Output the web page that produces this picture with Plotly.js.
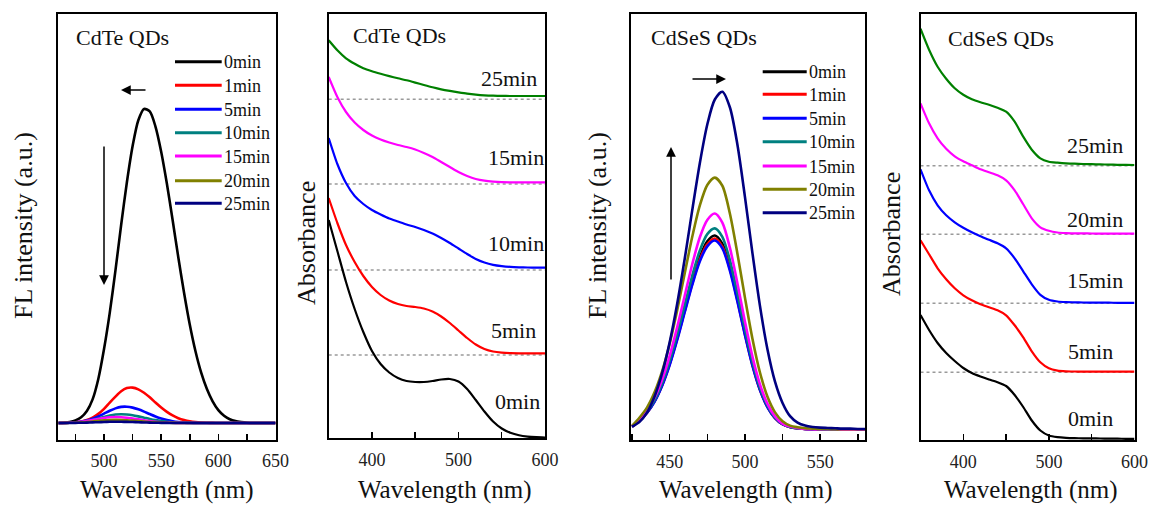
<!DOCTYPE html>
<html><head><meta charset="utf-8">
<script src="https://cdn.plot.ly/plotly-3.0.1.min.js"></script>
<style>html,body{margin:0;padding:0;background:#fff}#c{width:1151px;height:507px}</style>
</head><body><div id="c"></div>
<script>
// ---------- DATA ----------
const timeLabelsPL = ["0min","1min","5min","10min","15min","20min","25min"];
const colorsPL = ["#000000","#ff0000","#0000ff","#008080","#ff00ff","#808000","#000080"];

// Panel 1: CdTe FL spectra
const wlTeFL = [460,465,470,475,480,485,490,495,500,505,510,515,520,525,530,535,540,545,550,555,560,565,570,575,580,585,590,595,600,605,610,615,620,625,630,635,640,645,650];
const teFL0  = [0.000,0.001,0.003,0.008,0.018,0.038,0.075,0.140,0.235,0.350,0.485,0.630,0.765,0.880,0.962,0.998,0.990,0.942,0.862,0.760,0.645,0.526,0.414,0.313,0.228,0.160,0.108,0.069,0.041,0.023,0.012,0.006,0.003,0.001,0,0,0,0,0];
const teFL1  = [0,0,0.0009,0.0021,0.0046,0.0093,0.0172,0.029,0.045,0.065,0.084,0.101,0.111,0.1125,0.107,0.096,0.0815,0.065,0.049,0.0354,0.024,0.0153,0.0093,0.0053,0.0028,0.0014,0.0007,0.0003,0,0,0,0,0,0,0,0,0,0,0];
const teFL5  = [0,0.0004,0.001,0.0021,0.0043,0.0079,0.0134,0.0208,0.0297,0.0388,0.0465,0.0512,0.0517,0.0489,0.0434,0.0362,0.0284,0.0209,0.0145,0.0094,0.0057,0.0033,0.0018,0.0009,0.0004,0,0,0,0,0,0,0,0,0,0,0,0,0,0];
const teFL10 = [0,0.0002,0.0008,0.0018,0.0034,0.0059,0.0095,0.014,0.019,0.0236,0.0268,0.028,0.0271,0.0247,0.0211,0.017,0.0128,0.0091,0.006,0.0038,0.0022,0.0012,0.0006,0.0003,0,0,0,0,0,0,0,0,0,0,0,0,0,0,0];
const teFL15 = [0.0001,0.0005,0.0012,0.0023,0.004,0.0065,0.0095,0.0129,0.016,0.0182,0.019,0.0184,0.0168,0.0143,0.0116,0.0087,0.0062,0.0041,0.0026,0.0015,0.0008,0.0004,0.0002,0,0,0,0,0,0,0,0,0,0,0,0,0,0,0,0];
const teFL20 = [0.0001,0.0003,0.0006,0.0012,0.0021,0.0034,0.005,0.0068,0.0085,0.0096,0.010,0.0098,0.0089,0.0076,0.0061,0.0046,0.0033,0.0022,0.0014,0.0008,0.0004,0.0002,0.0001,0,0,0,0,0,0,0,0,0,0,0,0,0,0,0,0];
const teFL25 = [0,0.0001,0.0003,0.0005,0.0008,0.0013,0.002,0.0026,0.0033,0.0038,0.0039,0.0038,0.0035,0.003,0.0024,0.0018,0.0013,0.0008,0.0005,0.0003,0.0002,0.0001,0,0,0,0,0,0,0,0,0,0,0,0,0,0,0,0,0];

// Panel 3: CdSeS FL spectra
const wlSeFL = [425,430,435,440,445,450,455,460,465,470,475,480,485,490,495,500,505,510,515,520,525,530,535,540,545,550,555,560,565,570,575,580];
const seFL0  = [0.010,0.029,0.052,0.086,0.134,0.197,0.273,0.357,0.440,0.511,0.558,0.575,0.551,0.484,0.390,0.288,0.195,0.121,0.069,0.036,0.017,0.009,0.005,0.003,0.002,0.002,0.001,0.001,0.001,0.001,0.001,0.001];
const seFL1  = [0.010,0.028,0.051,0.085,0.132,0.194,0.269,0.351,0.433,0.503,0.549,0.566,0.542,0.476,0.384,0.283,0.192,0.119,0.068,0.035,0.017,0.009,0.005,0.003,0.002,0.002,0.001,0.001,0.001,0.001,0.001,0.001];
const seFL5  = [0.010,0.028,0.051,0.084,0.131,0.192,0.266,0.348,0.429,0.498,0.543,0.560,0.537,0.471,0.380,0.281,0.190,0.118,0.067,0.035,0.017,0.009,0.005,0.003,0.002,0.002,0.001,0.001,0.001,0.001,0.001,0.001];
const seFL10 = [0.010,0.030,0.054,0.089,0.139,0.204,0.283,0.370,0.456,0.530,0.579,0.596,0.571,0.502,0.404,0.299,0.202,0.125,0.072,0.037,0.018,0.009,0.005,0.003,0.002,0.002,0.001,0.001,0.001,0.001,0.001,0.001];
const seFL15 = [0.011,0.032,0.058,0.096,0.149,0.219,0.304,0.397,0.490,0.569,0.621,0.640,0.613,0.539,0.434,0.321,0.217,0.135,0.077,0.040,0.019,0.010,0.006,0.003,0.002,0.002,0.002,0.002,0.001,0.001,0.001,0.001];
const seFL20 = [0.012,0.037,0.067,0.112,0.174,0.255,0.354,0.463,0.571,0.663,0.724,0.746,0.722,0.640,0.522,0.392,0.270,0.170,0.098,0.052,0.026,0.013,0.008,0.005,0.004,0.003,0.003,0.002,0.002,0.002,0.002,0.002];
const seFL25 = [0.010,0.024,0.052,0.100,0.168,0.259,0.373,0.506,0.650,0.788,0.903,0.977,1.000,0.954,0.844,0.690,0.523,0.367,0.238,0.143,0.080,0.041,0.022,0.013,0.009,0.007,0.006,0.005,0.004,0.004,0.003,0.003];

// Absorbance spectra (values above each curve's own dotted baseline)
const wlAbs = [350,360,370,380,390,400,410,420,430,440,450,460,470,480,490,500,510,520,530,540,550,560,570,580,590,600];
const teAbsLabels = ["0min","5min","10min","15min","25min"];
const teAbsColors = ["#000000","#ff0000","#0000ff","#ff00ff","#008000"];
const teAbsOffsets = [0, 0.83, 1.68, 2.54, 3.387];
const teAbs0  = [2.18,1.87,1.56,1.29,1.06,0.87,0.74,0.655,0.60,0.57,0.56,0.56,0.57,0.585,0.59,0.565,0.49,0.38,0.265,0.165,0.095,0.052,0.027,0.014,0.008,0.005];
const teAbs5  = [1.57,1.32,1.10,0.93,0.79,0.68,0.60,0.545,0.51,0.49,0.48,0.465,0.435,0.385,0.32,0.245,0.17,0.105,0.06,0.035,0.024,0.019,0.017,0.017,0.017,0.017];
const teAbs10 = [1.32,1.06,0.87,0.74,0.66,0.60,0.555,0.515,0.485,0.455,0.43,0.40,0.365,0.32,0.27,0.215,0.16,0.11,0.075,0.052,0.039,0.031,0.027,0.025,0.023,0.023];
const teAbs15 = [1.07,0.87,0.72,0.615,0.54,0.485,0.445,0.415,0.39,0.37,0.345,0.31,0.27,0.22,0.17,0.12,0.08,0.05,0.033,0.024,0.019,0.017,0.017,0.017,0.017,0.017];
const teAbs25 = [0.59,0.49,0.41,0.355,0.31,0.28,0.255,0.232,0.21,0.19,0.167,0.143,0.12,0.10,0.084,0.07,0.057,0.047,0.04,0.036,0.034,0.033,0.033,0.033,0.033,0.033];

const seAbsLabels = ["0min","5min","15min","20min","25min"];
const seAbsColors = ["#000000","#ff0000","#0000ff","#ff00ff","#008000"];
const seAbsOffsets = [0, 0.677, 1.367, 2.057, 2.743];
const seAbs0  = [1.25,1.10,0.97,0.87,0.79,0.72,0.67,0.635,0.605,0.578,0.54,0.45,0.33,0.195,0.095,0.045,0.028,0.021,0.018,0.017,0.016,0.015,0.014,0.013,0.012,0.012];
const seAbs5  = [1.32,1.18,1.04,0.93,0.84,0.77,0.72,0.68,0.65,0.62,0.57,0.47,0.35,0.21,0.10,0.04,0.017,0.01,0.008,0.007,0.007,0.007,0.007,0.007,0.007,0.007];
const seAbs15 = [1.34,1.13,0.98,0.88,0.81,0.755,0.71,0.67,0.635,0.60,0.55,0.45,0.32,0.19,0.085,0.035,0.018,0.012,0.01,0.008,0.007,0.006,0.006,0.005,0.005,0.005];
const seAbs20 = [1.31,1.11,0.96,0.855,0.78,0.73,0.69,0.65,0.62,0.59,0.54,0.44,0.30,0.16,0.07,0.035,0.018,0.012,0.01,0.009,0.008,0.007,0.007,0.006,0.006,0.006];
const seAbs25 = [1.37,1.16,0.99,0.87,0.775,0.71,0.665,0.635,0.61,0.58,0.54,0.44,0.29,0.16,0.074,0.04,0.03,0.023,0.02,0.017,0.015,0.013,0.011,0.009,0.008,0.007];

// ---------- BUILD ----------
const W = 1151, H = 507;
const px = x => x / W, py = y => 1 - y / H;
const FONT = "Liberation Serif, Times New Roman, serif";

const traces = [];
const teFL = [teFL0,teFL1,teFL5,teFL10,teFL15,teFL20,teFL25];
const seFL = [seFL0,seFL1,seFL5,seFL10,seFL15,seFL20,seFL25];
teFL.forEach((ys,i)=>traces.push({x:wlTeFL,y:ys,xaxis:'x',yaxis:'y',type:'scatter',mode:'lines',name:timeLabelsPL[i],
  line:{color:colorsPL[i],width:2.6,shape:'spline',smoothing:0.8},showlegend:false,hoverinfo:'skip'}));
const teAbs = [teAbs0,teAbs5,teAbs10,teAbs15,teAbs25];
teAbs.forEach((ys,i)=>traces.push({x:wlAbs,y:ys.map(v=>v+teAbsOffsets[i]),xaxis:'x2',yaxis:'y2',type:'scatter',mode:'lines',name:teAbsLabels[i],
  line:{color:teAbsColors[i],width:2.2,shape:'spline',smoothing:0.6},showlegend:false,hoverinfo:'skip'}));
seFL.forEach((ys,i)=>traces.push({x:wlSeFL,y:ys,xaxis:'x3',yaxis:'y3',type:'scatter',mode:'lines',name:timeLabelsPL[i],
  line:{color:colorsPL[i],width:2.6,shape:'spline',smoothing:0.8},showlegend:false,hoverinfo:'skip'}));
const seAbs = [seAbs0,seAbs5,seAbs15,seAbs20,seAbs25];
seAbs.forEach((ys,i)=>traces.push({x:wlAbs,y:ys.map(v=>v+seAbsOffsets[i]),xaxis:'x4',yaxis:'y4',type:'scatter',mode:'lines',name:seAbsLabels[i],
  line:{color:seAbsColors[i],width:2.2,shape:'spline',smoothing:0.6},showlegend:false,hoverinfo:'skip'}));

function xax(dom, range, dtick, minor){
  return {domain:dom, range:range, showline:true, linecolor:'#000', linewidth:2, mirror:true,
    showgrid:false, zeroline:false, ticks:'inside', ticklen:6, tickwidth:1.5, tickcolor:'#000',
    dtick:dtick, tick0:0, ticklabelstandoff:4,
    tickfont:{family:FONT,size:18,color:'#222'},
    minor:{dtick:minor, tick0:0, ticks:'inside', ticklen:6, tickwidth:1.5, tickcolor:'#000', showgrid:false}};
}
function yax(dom, range){
  return {domain:dom, range:range, showline:true, linecolor:'#000', linewidth:2, mirror:true,
    showgrid:false, zeroline:false, ticks:'', showticklabels:false};
}

const layout = {
  width:W, height:H, margin:{l:0,r:0,t:0,b:0,pad:0},
  paper_bgcolor:'#fff', plot_bgcolor:'#fff', showlegend:false,
  xaxis: Object.assign(xax([px(58.3),px(275.5)],[460,650],50,25),{anchor:'y'}),
  yaxis: Object.assign(yax([py(439.5),py(14)],[-0.0524,1.2997]),{anchor:'x'}),
  xaxis2: Object.assign(xax([px(328.7),px(545)],[350,600],100,50),{anchor:'y2'}),
  yaxis2: Object.assign(yax([py(438),py(14)],[0,4.24]),{anchor:'x2'}),
  xaxis3: Object.assign(xax([px(631),px(865.3)],[424.3,580],50,25),{anchor:'y3'}),
  yaxis3: Object.assign(yax([py(440),py(14)],[-0.0296,1.2297]),{anchor:'x3'}),
  xaxis4: Object.assign(xax([px(920.5),px(1134.5)],[350,600],100,50),{anchor:'y4'}),
  yaxis4: Object.assign(yax([py(440),py(14)],[0,4.26]),{anchor:'x4'}),
  shapes:[], annotations:[]
};

// dotted baselines
teAbsOffsets.forEach((o,i)=>{ if(i>0) layout.shapes.push({type:'line',layer:'below',xref:'x2 domain',x0:0,x1:1,yref:'y2',y0:o,y1:o,line:{color:'#9a9a9a',width:1.5,dash:'dot'}}); });
seAbsOffsets.forEach((o,i)=>{ if(i>0) layout.shapes.push({type:'line',layer:'below',xref:'x4 domain',x0:0,x1:1,yref:'y4',y0:o,y1:o,line:{color:'#9a9a9a',width:1.5,dash:'dot'}}); });

const A = layout.annotations;
function txt(t,x,y,size,xa,extra){ A.push(Object.assign({text:t,x:px(x),y:py(y),xref:'paper',yref:'paper',showarrow:false,xanchor:xa||'left',yanchor:'middle',borderpad:0,font:{family:FONT,size:size,color:'#111'}},extra||{})); }

// manual legends
const leg1Y = [61.7,85.3,109.3,132.7,156,180.7,203.3];
const leg3Y = [71.7,94.3,118.3,141.7,166,189.3,212.7];
timeLabelsPL.forEach((t,i)=>{
  layout.shapes.push({type:'line',xref:'paper',yref:'paper',x0:px(175),x1:px(221.7),y0:py(leg1Y[i]),y1:py(leg1Y[i]),line:{color:colorsPL[i],width:3}});
  txt(t,222.5,leg1Y[i]+0.5,18,'left');
  layout.shapes.push({type:'line',xref:'paper',yref:'paper',x0:px(762.7),x1:px(806.7),y0:py(leg3Y[i]),y1:py(leg3Y[i]),line:{color:colorsPL[i],width:3}});
  txt(t,807.5,leg3Y[i]+0.5,18,'left');
});

// panel titles
txt('CdTe QDs',75,37.5,22,'left');
txt('CdTe QDs',352,35.5,22,'left');
txt('CdSeS QDs',650,38,22,'left');
txt('CdSeS QDs',947,39,22,'left');

// absorbance curve labels
const teLabPos = [[494,401.5],[490,330],[487,243.5],[487,157],[480,78.5]];
teAbsLabels.forEach((t,i)=>txt(t,teLabPos[i][0],teLabPos[i][1],22,'left'));
const seLabPos = [[1067,418],[1067,351.5],[1066,280.5],[1066,219.5],[1066,145]];
seAbsLabels.forEach((t,i)=>txt(t,seLabPos[i][0],seLabPos[i][1],22,'left'));

// axis titles
[166.7,445,746,1031].forEach(x=>txt('Wavelength (nm)',x,490,25,'center'));
txt('FL intensity (a.u.)',23,226,26,'center',{textangle:-90});
txt('Absorbance',306,243,26,'center',{textangle:-90});
txt('FL intensity (a.u.)',597,226,26,'center',{textangle:-90});
txt('Absorbance',891,234,26,'center',{textangle:-90});

// arrows
function arrow(hx,hy,tx,ty){ A.push({text:'',x:px(hx),y:py(hy),xref:'paper',yref:'paper',showarrow:true,ax:tx-hx,ay:ty-hy,axref:'pixel',ayref:'pixel',arrowhead:2,arrowsize:1.3,arrowwidth:1.5,arrowcolor:'#000'}); }
arrow(121,90,147,90);
arrow(104,285,104,145);
arrow(726,79,691,79);
arrow(671,147,671,281);

Plotly.newPlot('c', traces, layout, {staticPlot:true, displayModeBar:false});
</script>
</body></html>
